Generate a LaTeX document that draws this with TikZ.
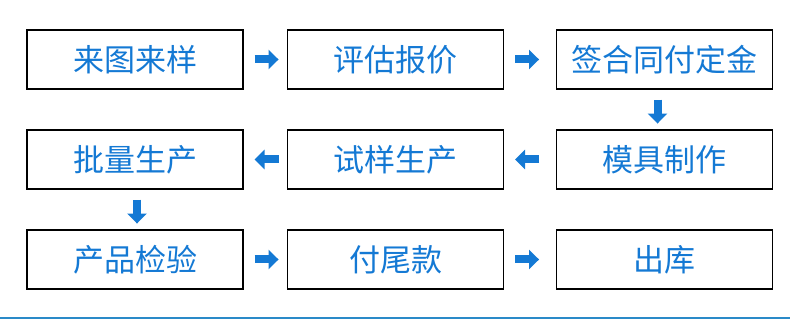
\documentclass[tikz,border=0pt]{standalone}
\usepackage{fontspec}
\newfontfamily\cjk{Noto Sans CJK SC}
\usepackage{xcolor}
\usetikzlibrary{positioning,arrows.meta}
\definecolor{flowblue}{HTML}{1479D4}
\definecolor{lineblue}{HTML}{2A8AC8}

\begin{document}
\begin{tikzpicture}[x=1pt, y=-1pt,
    stepbox/.style={rectangle, draw=black, line width=1.1pt, minimum width=216pt, minimum height=59pt, inner sep=0pt, text=flowblue, font=\cjk\fontsize{31}{36}\selectfont},
    flow/.style={draw=flowblue, line width=8pt, -{Triangle[length=10pt,width=19pt]}, flowblue},
]
\useasboundingbox (0,0) rectangle (790,320);

% Row 1
\node[stepbox] (S1) at (135,59.5) {来图来样};
\node[stepbox] (S2) at (395.5,59.5) {评估报价};
\node[stepbox] (S3) at (664.5,59.5) {签合同付定金};

% Row 2
\node[stepbox] (S4) at (664.5,159.5) {模具制作};
\node[stepbox] (S5) at (395.5,159.5) {试样生产};
\node[stepbox] (S6) at (135,159.5) {批量生产};

% Row 3
\node[stepbox] (S7) at (135,259.5) {产品检验};
\node[stepbox] (S8) at (395.5,259.5) {付尾款};
\node[stepbox] (S9) at (664.5,259.5) {出库};

% Arrows to the right
\foreach \a in {S1,S2,S7,S8}
    \draw[flow] ([xshift=11pt]\a.east) -- ([xshift=35pt]\a.east);
% Arrows to the left
\foreach \a in {S5,S6}
    \draw[flow] ([xshift=35pt]\a.east) -- ([xshift=11pt]\a.east);
% Arrows down
\foreach \a/\dx in {S3/-7,S6/2}
    \draw[flow] ([xshift=\dx pt, yshift=-10pt]\a.south) -- ([xshift=\dx pt, yshift=-34pt]\a.south);

% Bottom line
\draw[lineblue, line width=2pt] (0,318) -- (790,318);

\end{tikzpicture}
\end{document}
